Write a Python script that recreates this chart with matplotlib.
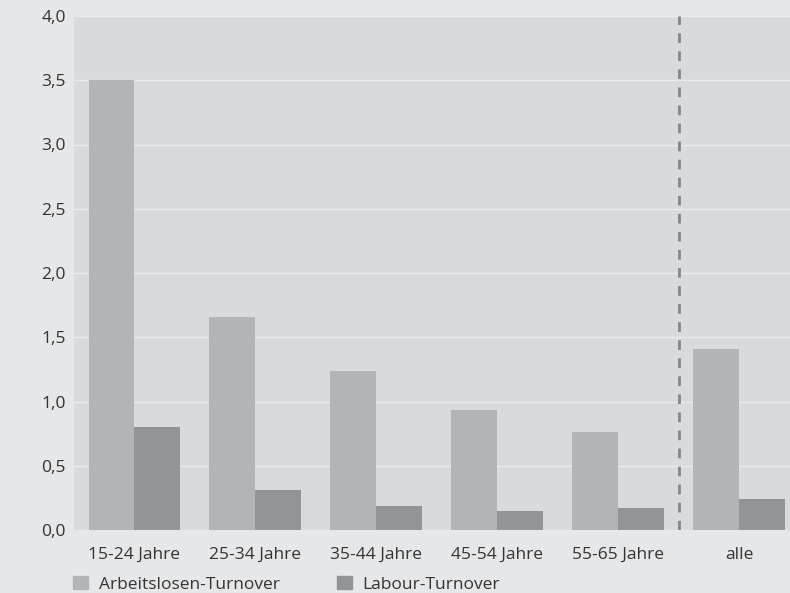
import numpy as np
import matplotlib.pyplot as plt
from matplotlib.patches import Patch

# Werte
gruppen = ['15-24 Jahre', '25-34 Jahre', '35-44 Jahre', '45-54 Jahre', '55-65 Jahre', 'alle']
arbeitslosen = [3.50, 1.66, 1.24, 0.93, 0.76, 1.41]
labour = [0.80, 0.31, 0.19, 0.15, 0.17, 0.24]
yticks = [0.0, 0.5, 1.0, 1.5, 2.0, 2.5, 3.0, 3.5, 4.0]

c_bg = '#e6e7e9'
c_ax = '#d9dadc'
c_hell = '#b3b4b6'
c_dunkel = '#939497'
c_text = '#333333'

plt.rcParams['font.family'] = ['Open Sans', 'DejaVu Sans']

fig = plt.figure(figsize=(7.9, 5.93), dpi=100, facecolor=c_bg)
ax = fig.add_axes([74/790, 63/593, 716/790, 514/593])
ax.set_facecolor(c_ax)

x = np.arange(len(gruppen))
w = 0.38
ax.bar(x - w/2, arbeitslosen, w, color=c_hell, zorder=3)
ax.bar(x + w/2, labour, w, color=c_dunkel, zorder=3)

ax.axvline(4.5, color='#858688', lw=2, ls=(0, (3.5, 3)), zorder=4)

ax.set_xlim(-0.5, 5.42)
ax.set_ylim(0, 4.0)
ax.set_yticks(yticks)
ax.set_yticklabels([('%.1f' % v).replace('.', ',') for v in yticks])
ax.set_xticks(x)
ax.set_xticklabels(gruppen)
ax.yaxis.grid(True, color='#e9eaeb', lw=1.0, zorder=1)
ax.tick_params(length=0, labelsize=12.5, colors=c_text)
ax.tick_params(axis='x', pad=12)
ax.tick_params(axis='y', pad=6)
for s in ax.spines.values():
    s.set_visible(False)

handles = [Patch(color=c_hell, label='Arbeitslosen-Turnover'),
           Patch(color=c_dunkel, label='Labour-Turnover')]
fig.legend(handles=handles, loc='lower left', bbox_to_anchor=(70/790, -3/593), ncol=2,
           frameon=False, fontsize=12.5, handlelength=0.85, handleheight=0.8,
           columnspacing=3.3, handletextpad=0.6, borderpad=0.2, borderaxespad=0,
           labelcolor=c_text)

fig.savefig('out.png', dpi=100, facecolor=c_bg)
